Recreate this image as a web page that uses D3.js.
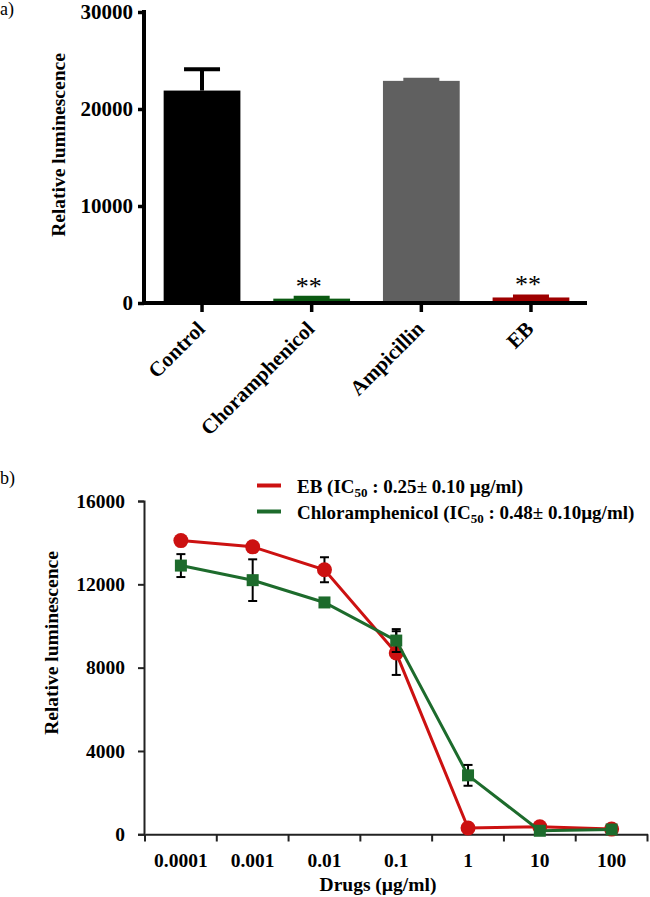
<!DOCTYPE html>
<html>
<head>
<meta charset="utf-8">
<script src="https://cdn.jsdelivr.net/npm/d3@7"></script>
<style>
  html, body { margin: 0; padding: 0; background: #fff; }
  svg { display: block; }
</style>
</head>
<body>
<script>
// ---------- Panel a data ----------
const catsA = ["Control", "Choramphenicol", "Ampicillin", "EB"];
const meansA = [21900, 450, 22900, 570];
const sdA = [2200, 90, 120, 110];
const colorsA = ["#000000", "#0b5a12", "#606060", "#9e0000"];
const sigA = ["", "**", "", "**"];
const ticksA = [0, 10000, 20000, 30000];

// ---------- Panel b data ----------
const dosesB = ["0.0001", "0.001", "0.01", "0.1", "1", "10", "100"];
const ebMean = [14100, 13800, 12700, 8700, 300, 360, 250];
const ebErr = [150, 150, 600, 1050, 150, 100, 100];
const chlMean = [12900, 12200, 11130, 9300, 2830, 170, 230];
const chlErr = [550, 1000, 150, 550, 500, 80, 80];
const ticksB = [0, 4000, 8000, 12000, 16000];
const legendB = [
  { name: "EB (IC", val: " : 0.25", rest: " 0.10 µg/ml)", color: "#cc1111" },
  { name: "Chloramphenicol (IC", val: " : 0.48", rest: " 0.10µg/ml)", color: "#1d6b2c" }
];

const FONT = "Liberation Serif, Times New Roman, serif";

const svg = d3.select("body").append("svg")
  .attr("width", 650).attr("height", 897)
  .attr("font-family", FONT);

// ================= Panel a =================
svg.append("text").attr("x", 0).attr("y", 15).attr("font-size", 18).text("a)");

const yA = d3.scaleLinear().domain([0, 30000]).range([303, 12]);
const xA = d3.scaleBand().domain(catsA).range([147.2, 585.8]).paddingInner(0.3).paddingOuter(0.15);

const gA = svg.append("g");

gA.selectAll("rect.bar").data(catsA).join("rect")
  .attr("class", "bar")
  .attr("x", d => xA(d))
  .attr("y", (d, i) => yA(meansA[i]))
  .attr("width", xA.bandwidth())
  .attr("height", (d, i) => yA(0) - yA(meansA[i]))
  .attr("fill", (d, i) => colorsA[i]);

catsA.forEach((c, i) => {
  const cx = xA(c) + xA.bandwidth() / 2;
  gA.append("line")
    .attr("x1", cx).attr("x2", cx)
    .attr("y1", yA(meansA[i])).attr("y2", yA(meansA[i] + sdA[i]))
    .attr("stroke", colorsA[i]).attr("stroke-width", 4);
  gA.append("line")
    .attr("x1", cx - 18).attr("x2", cx + 18)
    .attr("y1", yA(meansA[i] + sdA[i])).attr("y2", yA(meansA[i] + sdA[i]))
    .attr("stroke", colorsA[i]).attr("stroke-width", 4);
  if (sigA[i]) {
    gA.append("text")
      .attr("x", cx - 3).attr("y", yA(meansA[i] + sdA[i]) - 3)
      .attr("text-anchor", "middle")
      .attr("font-size", 26)
      .text(sigA[i]);
  }
});

const axA = gA.append("g").attr("transform", "translate(144,0)")
  .call(d3.axisLeft(yA).tickValues(ticksA).tickSize(6).tickPadding(5).tickFormat(d3.format("d")))
  .attr("font-family", FONT).attr("font-size", 21).attr("font-weight", "bold");
axA.select(".domain").remove();
axA.selectAll(".tick line").attr("stroke", "#000").attr("stroke-width", 3.5);
axA.selectAll(".tick text").attr("fill", "#000").attr("font-size", 21);
gA.append("line").attr("x1", 144).attr("x2", 144).attr("y1", 10).attr("y2", 305)
  .attr("stroke", "#000").attr("stroke-width", 4);

const axAx = gA.append("g").attr("transform", "translate(0,303)")
  .call(d3.axisBottom(xA).tickSize(9).tickFormat(""));
axAx.select(".domain").remove();
axAx.selectAll(".tick line").attr("stroke", "#000").attr("stroke-width", 3.5);
gA.append("line").attr("x1", 142).attr("x2", 587).attr("y1", 303).attr("y2", 303)
  .attr("stroke", "#000").attr("stroke-width", 4);

catsA.forEach(c => {
  const cx = xA(c) + xA.bandwidth() / 2;
  gA.append("text")
    .attr("transform", `translate(${cx + 4},330) rotate(-45)`)
    .attr("text-anchor", "end")
    .attr("font-size", 21).attr("font-weight", "bold")
    .text(c);
});

gA.append("text")
  .attr("transform", "translate(65,145) rotate(-90)")
  .attr("text-anchor", "middle")
  .attr("font-size", 19.5).attr("font-weight", "bold")
  .text("Relative luminescence");

// ================= Panel b =================
svg.append("text").attr("x", 0).attr("y", 484).attr("font-size", 18).text("b)");

const yB = d3.scaleLinear().domain([0, 16000]).range([834.3, 501]);
const xB = d3.scaleBand().domain(dosesB).range([145, 647.5]).padding(0);
const cxB = d => xB(d) + xB.bandwidth() / 2;

const gB = svg.append("g");

const axB = gB.append("g").attr("transform", "translate(144,0)")
  .call(d3.axisLeft(yB).tickValues(ticksB).tickSize(6).tickPadding(13).tickFormat(d3.format("d")))
  .attr("font-family", FONT).attr("font-size", 19.5).attr("font-weight", "bold");
axB.select(".domain").attr("stroke", "#222").attr("stroke-width", 2);
axB.selectAll(".tick line").attr("stroke", "#222").attr("stroke-width", 2);
axB.selectAll(".tick text").attr("fill", "#000").attr("font-size", 19.5);

const axBx = gB.append("g").attr("transform", "translate(0,834.3)")
  .call(d3.axisBottom(xB).tickSize(0).tickPadding(18.5))
  .attr("font-family", FONT).attr("font-size", 19.5).attr("font-weight", "bold");
axBx.select(".domain").attr("stroke", "#222").attr("stroke-width", 2);
axBx.selectAll(".tick text").attr("fill", "#000").attr("font-size", 19.5);
const bounds = dosesB.map(d => xB(d)).concat([xB.range()[1]]);
gB.selectAll("line.bt").data(bounds).join("line").attr("class", "bt")
  .attr("x1", d => d).attr("x2", d => d)
  .attr("y1", 834.3).attr("y2", 841.5)
  .attr("stroke", "#222").attr("stroke-width", 2);

gB.append("text")
  .attr("transform", "translate(58,643) rotate(-90)")
  .attr("text-anchor", "middle")
  .attr("font-size", 19.5).attr("font-weight", "bold")
  .text("Relative luminescence");
gB.append("text")
  .attr("x", 378).attr("y", 891)
  .attr("text-anchor", "middle")
  .attr("font-size", 19.5).attr("font-weight", "bold")
  .text("Drugs (µg/ml)");

const line = d3.line().x((d, i) => cxB(dosesB[i])).y(d => yB(d));

function drawSeries(means, errs, color, shape) {
  gB.append("path").datum(means)
    .attr("d", line).attr("fill", "none")
    .attr("stroke", color).attr("stroke-width", 3);
  means.forEach((m, i) => {
    const x = cxB(dosesB[i]);
    gB.append("line").attr("x1", x).attr("x2", x)
      .attr("y1", yB(m - errs[i])).attr("y2", yB(m + errs[i]))
      .attr("stroke", "#000").attr("stroke-width", 2);
    [m - errs[i], m + errs[i]].forEach(v => {
      gB.append("line").attr("x1", x - 4.5).attr("x2", x + 4.5)
        .attr("y1", yB(v)).attr("y2", yB(v))
        .attr("stroke", "#000").attr("stroke-width", 2);
    });
  });
  if (shape === "circle") {
    gB.selectAll(null).data(means).join("circle")
      .attr("cx", (d, i) => cxB(dosesB[i])).attr("cy", d => yB(d))
      .attr("r", 7.5).attr("fill", color);
  } else {
    gB.selectAll(null).data(means).join("rect")
      .attr("x", (d, i) => cxB(dosesB[i]) - 6).attr("y", d => yB(d) - 6)
      .attr("width", 12).attr("height", 12).attr("fill", color);
  }
}
drawSeries(ebMean, ebErr, "#cc1111", "circle");
drawSeries(chlMean, chlErr, "#1d6b2c", "square");

legendB.forEach((l, i) => {
  const base = 493 + i * 26;
  gB.append("line").attr("x1", 257).attr("x2", 281)
    .attr("y1", base - 7.5).attr("y2", base - 7.5)
    .attr("stroke", l.color).attr("stroke-width", 4);
  const t = gB.append("text").attr("x", 297).attr("y", base)
    .attr("font-size", 19).attr("font-weight", "bold");
  t.append("tspan").text(l.name);
  t.append("tspan").attr("dy", 4).attr("font-size", 13).text("50");
  t.append("tspan").attr("dy", -4).text(l.val);
  t.append("tspan").text("±");
  t.append("tspan").text(l.rest);
});
</script>
</body>
</html>
